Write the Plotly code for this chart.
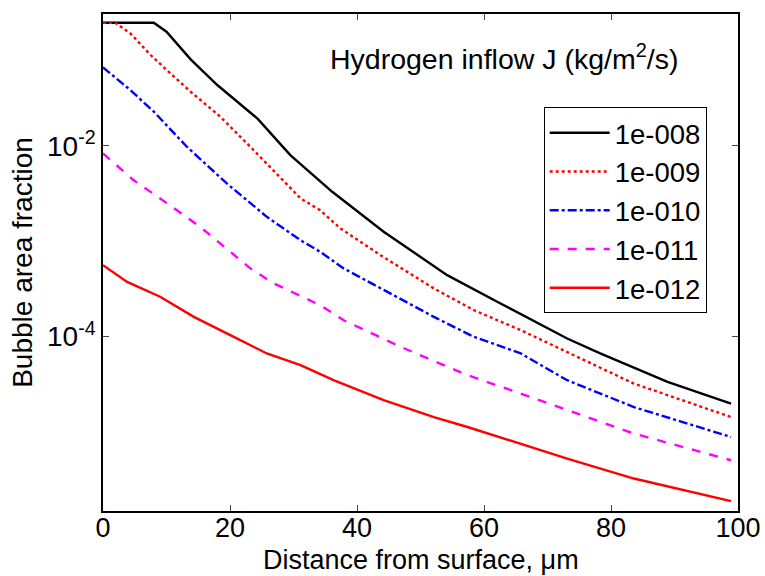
import plotly.graph_objects as go

# Hydrogen inflow J = 1e-008
x_j8 = [0, 8.0, 10.0, 13.8, 18.0, 24.3, 29.5, 36.1, 44.2, 54.2, 62.6, 73.1, 78.3, 88.9, 98.9]
y_j8 = [0.1954, 0.1954, 0.157, 0.0807, 0.0434, 0.01936, 0.00798, 0.00329, 0.001253,
        0.00044, 0.000222, 9.53e-5, 6.64e-5, 3.34e-5, 1.98e-5]

# J = 1e-009
x_j9 = [0, 1.9, 4.3, 7.5, 10.6, 13.8, 18.5, 23.2, 31.1, 34.2, 37.4, 43.7, 52.1, 58.4, 65.8, 73.1, 83.6, 98.9]
y_j9 = [0.1954, 0.1954, 0.151, 0.0895, 0.0575, 0.0369, 0.0201, 0.00977, 0.00281, 0.00211,
        0.001358, 0.000713, 0.000319, 0.000189, 0.0001164, 6.89e-5, 3.21e-5, 1.43e-5]

# J = 1e-010
x_j10 = [0, 4.3, 8.0, 13.2, 19.5, 25.8, 31.1, 34.2, 37.9, 44.8, 52.1, 58.4, 65.8, 73.1, 83.6, 98.9]
y_j10 = [0.0665, 0.0384, 0.0228, 0.00977, 0.00403, 0.0018, 0.001023, 0.000773, 0.000518,
         0.000294, 0.0001607, 9.91e-5, 6.64e-5, 3.48e-5, 1.82e-5, 8.83e-6]

# J = 1e-011
x_j11 = [0, 4.8, 10.1, 15.3, 23.2, 26.9, 34.2, 37.9, 46.9, 57.4, 65.8, 73.1, 83.6, 98.9]
y_j11 = [0.00832, 0.00437, 0.00249, 0.00141, 0.000518, 0.00036, 0.000213, 0.000148,
         7.78e-5, 3.93e-5, 2.52e-5, 1.69e-5, 9.6e-6, 5.04e-6]

# J = 1e-012
x_j12 = [0, 3.8, 9.0, 14.3, 20.6, 25.8, 31.1, 36.3, 44.2, 52.1, 57.4, 65.8, 73.1, 83.6, 98.9]
y_j12 = [0.00056, 0.000374, 0.000261, 0.0001607, 9.91e-5, 6.64e-5, 5.0e-5, 3.48e-5,
         2.15e-5, 1.43e-5, 1.125e-5, 7.53e-6, 5.25e-6, 3.24e-6, 1.88e-6]

series_names = ["1e-008", "1e-009", "1e-010", "1e-011", "1e-012"]
x_ticks = [0, 20, 40, 60, 80, 100]
y_ticks = [1e-4, 1e-2]
y_ticktext = ["10<sup>-4</sup>", "10<sup>-2</sup>"]

FONT = "Liberation Sans, Arial, sans-serif"

styles = [
    dict(color="#000000", dash="solid"),
    dict(color="#FF0000", dash="dot"),
    dict(color="#0000FF", dash="dashdot"),
    dict(color="#FF00FF", dash="dash"),
    dict(color="#FF0000", dash="solid"),
]

xs = [x_j8, x_j9, x_j10, x_j11, x_j12]
ys = [y_j8, y_j9, y_j10, y_j11, y_j12]

fig = go.Figure()
for name, x, y, st in zip(series_names, xs, ys, styles):
    fig.add_trace(go.Scatter(x=x, y=y, mode="lines", name=name,
                             line=dict(color=st["color"], dash=st["dash"], width=2.4)))

fig.update_layout(
    width=765, height=576,
    margin=dict(l=103, r=27, t=14, b=65),
    paper_bgcolor="white", plot_bgcolor="white",
    font=dict(family=FONT, size=27, color="black"),
    showlegend=True,
    legend=dict(x=0.694, y=0.812, xanchor="left", yanchor="top",
                bgcolor="white", bordercolor="black", borderwidth=1,
                font=dict(size=27.5), itemwidth=60, tracegroupgap=0),
    annotations=[
        dict(text="Hydrogen inflow J (kg/m<sup>2</sup>/s)", xref="paper", yref="paper",
             x=0.355, y=0.913, xanchor="left", yanchor="middle",
             showarrow=False, font=dict(size=28.5)),
        dict(text="Distance from surface, \u03bcm", xref="paper", yref="paper",
             x=0.5, y=-0.1328, xanchor="center", yanchor="bottom",
             showarrow=False, font=dict(size=27)),
    ],
)

fig.update_xaxes(range=[0, 100], tickvals=x_ticks, ticks="inside", ticklen=6,
                 showline=True, linecolor="black", linewidth=1.5, mirror="ticks",
                 showgrid=False, zeroline=False, tickfont=dict(size=27), automargin=False,
                 ticklabelstandoff=-8)
fig.update_yaxes(type="log", range=[-5.83, -0.618], tickvals=y_ticks, ticktext=y_ticktext,
                 ticks="inside", ticklen=6, automargin=False,
                 showline=True, linecolor="black", linewidth=1.5, mirror="ticks",
                 showgrid=False, zeroline=False, tickfont=dict(size=28),
                 title=dict(text="Bubble area fraction", font=dict(size=28), standoff=6))

fig.write_html("out.html")
